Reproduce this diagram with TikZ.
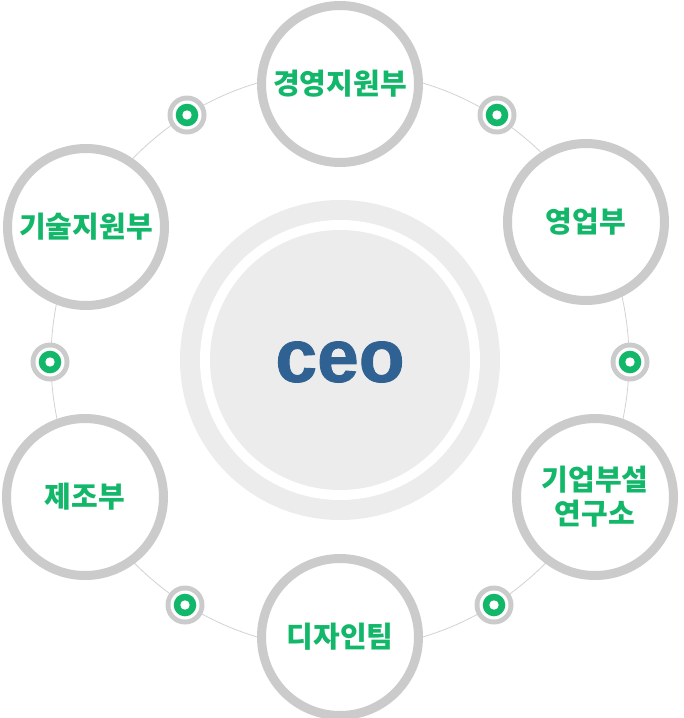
\documentclass[tikz,border=0pt]{standalone}
\usepackage{fontspec}
\newfontfamily\kor{Noto Sans CJK KR}
\newfontfamily\ceofont{Liberation Sans}[FakeBold=1.2]
\definecolor{ringgray}{HTML}{CBCBCB}
\definecolor{orbitgray}{HTML}{D2D2D2}
\definecolor{ceobg}{HTML}{ECECEC}
\definecolor{deptgreen}{HTML}{13B76A}
\definecolor{ceoblue}{HTML}{2F6293}
\tikzset{
  dept/.style={circle, draw=ringgray, line width=9pt, fill=white, minimum size=157pt, inner sep=0pt,
    text=deptgreen, font=\kor\bfseries\fontsize{29}{35}\selectfont, align=center},
}
\newcommand{\orbdot}[2]{%
  \fill[ringgray] (#1) circle (19.5);
  \fill[white] (#1) circle (14.5);
  \fill[deptgreen] (#1) circle (11.3);
  \fill[white] (#1) circle (4.7);
  \coordinate (#2) at (#1);
}
\begin{document}
\begin{tikzpicture}[x=1pt,y=-1pt]
\useasboundingbox (0,0) rectangle (684,718);
% orbit
\coordinate (c) at (340,360);
\draw[orbitgray, line width=0.8pt] (c) circle (289);
% ceo
\fill[ceobg] (c) circle (160);
\fill[white] (c) circle (140);
\fill[ceobg] (c) circle (130);
\node[text=ceoblue, font=\ceofont\bfseries\fontsize{75}{80}\selectfont, inner sep=0pt] (ceo) at (340,362) {ceo};
% dots
\orbdot{187,115}{d1}
\orbdot{497,115}{d2}
\orbdot{50,362}{d3}
\orbdot{630,362}{d4}
\orbdot{185,605}{d5}
\orbdot{494,605}{d6}
% departments
\node[dept] (top) at (340,84) {경영지원부};
\node[dept] (sales) at (586,222) {영업부};
\node[dept] (tech) at (86,227) {기술지원부};
\node[dept] (lab) at (595,497) {기업부설\\[-1pt]연구소};
\node[dept] (mfg) at (85,497) {제조부};
\node[dept] (design) at (340,637) {디자인팀};
\end{tikzpicture}
\end{document}
